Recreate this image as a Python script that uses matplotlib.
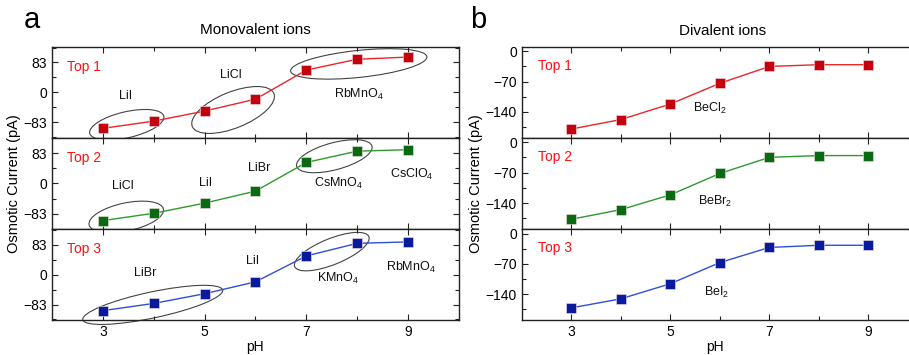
import numpy as np
import matplotlib
matplotlib.use('Agg')
import matplotlib.pyplot as plt
from matplotlib.patches import Ellipse
from matplotlib.ticker import MultipleLocator, FixedLocator
from matplotlib.transforms import ScaledTranslation

plt.rcParams['font.family'] = ['Liberation Sans', 'DejaVu Sans']
plt.rcParams['mathtext.default'] = 'regular'

ph = np.array([3, 4, 5, 6, 7, 8, 9])

# Monovalent ions (panel a)
mono_top1 = [-100, -80, -52, -19, 62, 92, 98]
mono_top2 = [-102, -82, -54, -21, 58, 89, 93]
mono_top3 = [-100, -80, -53, -20, 52, 87, 91]

# Divalent ions (panel b)
di_top1 = [-180, -158, -122, -74, -35, -31, -31]
di_top2 = [-177, -155, -121, -72, -35, -31, -31]
di_top3 = [-172, -151, -116, -67, -32, -27, -27]

rank_labels = ['Top 1', 'Top 2', 'Top 3']
line_cols = ['#e8262a', '#2e9a2e', '#2f4fd6']
mark_cols = ['#c4000f', '#0a6a12', '#0a1a9c']

# ion labels (pH, value, text) per row
mono_labels = [
    [(3.44, -10, 'LiI'), (5.51, 47, 'LiCl'), (8.03, -5, 'RbMnO$_4$')],
    [(3.4, -7, 'LiCl'), (5.02, 0, 'LiI'), (6.07, 42, 'LiBr'),
     (7.63, 0, 'CsMnO$_4$'), (9.08, 24, 'CsClO$_4$')],
    [(3.83, 4, 'LiBr'), (5.95, 39, 'LiI'), (7.63, -11, 'KMnO$_4$'),
     (9.06, 21, 'RbMnO$_4$')],
]
# ellipses: centre (pH, value), width/height in pixels, angle
mono_ellipses = [
    [(3.47, -90, 76, 26, 13), (5.56, -49, 88, 36, 22), (8.03, 79, 137, 27, 6)],
    [(3.46, -92, 76, 28, 12), (7.55, 75, 78, 27, 15)],
    [(3.98, -84, 143, 26, 12), (7.5, 64, 80, 26, 22)],
]
di_labels = [(5.79, -132, 'BeCl$_2$'), (5.91, -136, 'BeBr$_2$'), (5.93, -137, 'BeI$_2$')]

fig = plt.figure(figsize=(9.09, 3.55), dpi=100)

rows_y = [(0.6121, 0.2555), (0.3541, 0.2580), (0.0986, 0.2555)]


def style(ax, ymaj, ymin, last):
    ax.xaxis.set_major_locator(FixedLocator([3, 5, 7, 9]))
    ax.xaxis.set_minor_locator(FixedLocator([4, 6, 8]))
    ax.yaxis.set_major_locator(MultipleLocator(ymaj))
    ax.yaxis.set_minor_locator(MultipleLocator(ymin))
    ax.tick_params(which='both', direction='in', top=True, right=True,
                   labelsize=10, width=0.8, color='#222222')
    ax.tick_params(which='major', length=4)
    ax.tick_params(which='minor', length=3)
    if not last:
        ax.tick_params(labelbottom=False)
    for s in ax.spines.values():
        s.set_linewidth(1.0)
        s.set_color('#222222')


series_a = [mono_top1, mono_top2, mono_top3]
series_b = [di_top1, di_top2, di_top3]

for i in range(3):
    y0, h = rows_y[i]
    # panel a
    ax = fig.add_axes([0.0572, y0, 0.4477, h])
    ax.plot(ph, series_a[i], '-', color=line_cols[i], lw=1.0)
    ax.plot(ph, series_a[i], 's', ms=7, mfc=mark_cols[i], mec='#f0e0e0', mew=0.4)
    ax.set_xlim(2, 10)
    ax.set_ylim(-126, 126)
    ax.set_yticks([-83, 0, 83])
    style(ax, 83, 41.5, i == 2)
    ax.set_yticks([-83, 0, 83])
    ax.text(0.037, 0.78, rank_labels[i], transform=ax.transAxes, color='#ff1010',
            fontsize=10, va='center', ha='left')
    for x, y, t in mono_labels[i]:
        ax.text(x, y, t, fontsize=9, ha='center', va='center', color='#111111')
    for cx, cy, w, hh, ang in mono_ellipses[i]:
        tr = fig.dpi_scale_trans + ScaledTranslation(cx, cy, ax.transData)
        e = Ellipse((0, 0), w / 100, hh / 100, angle=ang, transform=tr,
                    fill=False, ec='#444444', lw=0.8, clip_on=False)
        ax.add_patch(e)
    if i == 2:
        ax.set_xlabel('pH', fontsize=10, labelpad=1)
    if i == 1:
        ax.set_ylabel('Osmotic Current (pA)', fontsize=10.5, labelpad=2)

    # panel b
    bx = fig.add_axes([0.574, y0, 0.4250, h])
    bx.plot(ph, series_b[i], '-', color=line_cols[i], lw=1.0)
    bx.plot(ph, series_b[i], 's', ms=7, mfc=mark_cols[i], mec='#f0e0e0', mew=0.4)
    bx.set_xlim(2, 9.8)
    bx.set_ylim(-200, 10)
    style(bx, 70, 35, i == 2)
    bx.set_yticks([-140, -70, 0])
    bx.spines['right'].set_visible(False)
    bx.tick_params(which='both', right=False)
    bx.text(0.041, 0.79, rank_labels[i], transform=bx.transAxes, color='#ff1010',
            fontsize=10, va='center', ha='left')
    x, y, t = di_labels[i]
    bx.text(x, y, t, fontsize=9, ha='center', va='center', color='#111111')
    if i == 2:
        bx.set_xlabel('pH', fontsize=10, labelpad=1)
    if i == 1:
        bx.set_ylabel('Osmotic Current (pA)', fontsize=10.5, labelpad=2)

fig.text(255 / 909, 1 - 30 / 355, 'Monovalent ions', fontsize=11, ha='center', va='center')
fig.text(723 / 909, 1 - 31 / 355, 'Divalent ions', fontsize=11, ha='center', va='center')
fig.text(32 / 909, 1 - 20 / 355, 'a', fontsize=21, ha='center', va='center')
fig.text(478 / 909, 1 - 20 / 355, 'b', fontsize=21, ha='center', va='center')

fig.savefig('out.png', dpi=100)
